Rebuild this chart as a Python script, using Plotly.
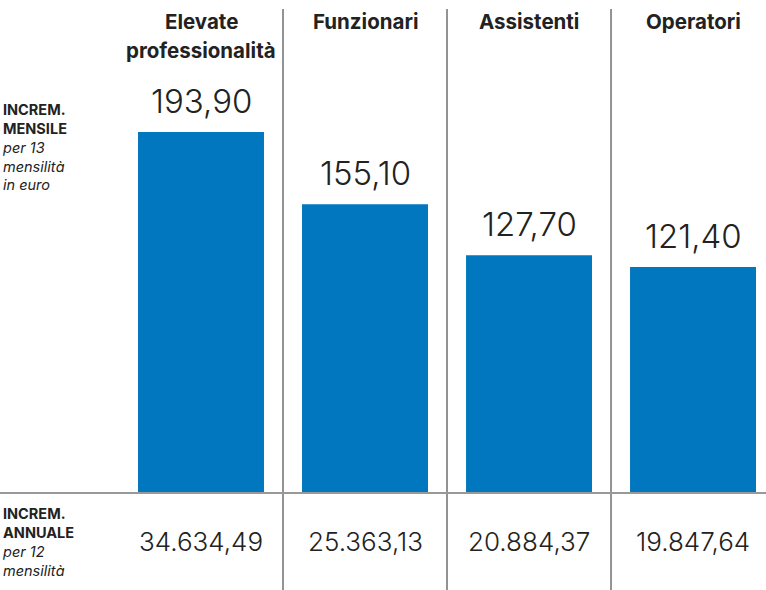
import plotly.graph_objects as go

categories = ["Elevate<br>professionalità", "Funzionari", "Assistenti", "Operatori"]
monthly_values = [193.90, 155.10, 127.70, 121.40]
monthly_labels = ["193,90", "155,10", "127,70", "121,40"]
annual_labels = ["34.634,49", "25.363,13", "20.884,37", "19.847,64"]
left_top_text = "<b>INCREM.<br>MENSILE</b><br><i>per 13<br>mensilità<br>in euro</i>"
left_bottom_text = "<b>INCREM.<br>ANNUALE</b><br><i>per 12<br>mensilità</i>"

BAR_COLOR = "#0077BE"
TEXT = "#222222"
LINE = "#707070"
FONT = "Inter"
W, H = 766, 590


def py(p):
    return 1 - p / H


x_idx = list(range(len(categories)))

fig = go.Figure()
fig.add_trace(go.Bar(
    x=x_idx, y=monthly_values, width=0.768,
    marker=dict(color=BAR_COLOR, line=dict(width=0)),
    hoverinfo="skip",
))

for i, c in enumerate(categories):
    fig.add_annotation(x=i, y=monthly_values[i], xref="x", yref="y", yanchor="middle",
                       yshift=31, text=monthly_labels[i], showarrow=False,
                       font=dict(family=FONT, size=33, color=TEXT, weight=300))
    fig.add_annotation(x=i, y=0, xref="x", yref="y", yanchor="middle", yshift=-48,
                       text=annual_labels[i], showarrow=False,
                       font=dict(family=FONT, size=26, color=TEXT, weight=300))
    for j, line in enumerate(c.split("<br>")):
        fig.add_annotation(x=i, y=py(22 + 28 * j), xref="x", yref="paper", yanchor="middle",
                           text=f"<b>{line}</b>", showarrow=False,
                           font=dict(family=FONT, size=20.5, color=TEXT))

for i in range(len(categories) - 1):
    fig.add_shape(type="line", x0=i + 0.5, x1=i + 0.5, xref="x", yref="paper",
                  y0=0, y1=py(9), line=dict(color=LINE, width=1.5))
fig.add_shape(type="line", x0=0, x1=1, xref="paper", y0=0, y1=0, yref="y",
              line=dict(color="#999999", width=2))

fig.add_annotation(x=0, y=py(147), xref="paper", yref="paper", xanchor="left",
                   yanchor="middle", align="left", showarrow=False, text=left_top_text,
                   font=dict(family=FONT, size=14.5, color=TEXT))
fig.add_annotation(x=0, y=py(542), xref="paper", yref="paper", xanchor="left",
                   yanchor="middle", align="left", showarrow=False, text=left_bottom_text,
                   font=dict(family=FONT, size=14.5, color=TEXT))

fig.update_layout(
    width=W, height=H, margin=dict(l=0, r=0, t=0, b=0),
    paper_bgcolor="white", plot_bgcolor="white", showlegend=False,
    xaxis=dict(range=[-1.2256, 3.445], visible=False, fixedrange=True),
    yaxis=dict(range=[-52.1, 264.8], visible=False, fixedrange=True),
    font=dict(family=FONT),
)
fig.write_html("out.html", config={"displayModeBar": False},
               post_script="document.body.style.margin='0';")
